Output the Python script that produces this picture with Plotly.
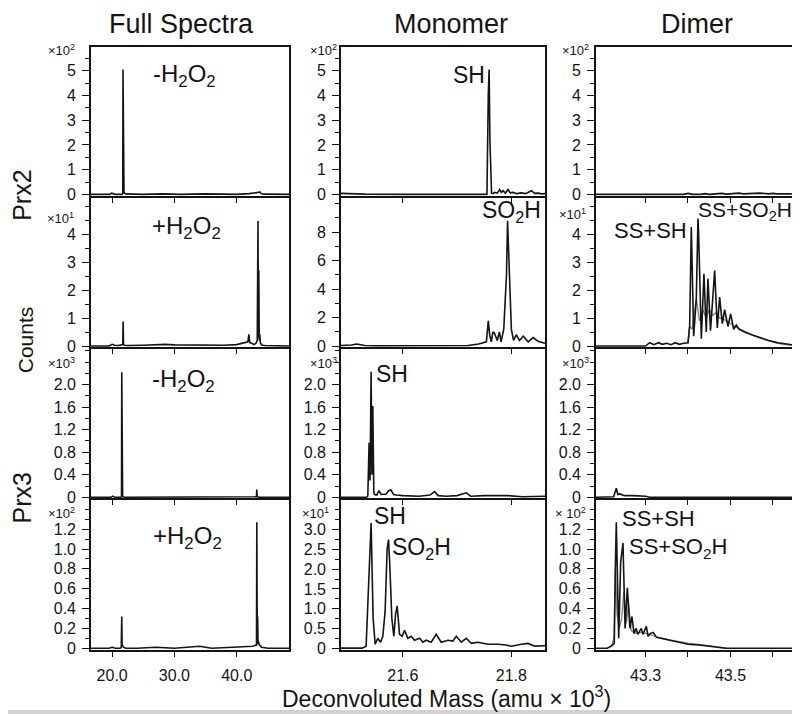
import plotly.graph_objects as go

# ---------------- data (mass in amu x 10^3, intensity in each panel's own scale) ----------------
# Prx2 -H2O2, full spectrum (x10^2)
p2_red_full_x = [16.6, 19.6, 19.9, 20.2, 20.5, 21.6, 21.7, 21.74, 21.78, 21.82, 21.86, 21.9, 22.2, 25.0, 28.0,
                 31.0, 35.0, 40.0, 42.0, 42.6, 43.0, 43.3, 43.5, 43.7, 43.9, 44.3, 48.4]
p2_red_full_y = [0.0, 0.0, 0.05, 0.02, 0.0, 0.0, 0.04, 5.05, 0.3, 2.2, 0.15, 0.06, 0.02, 0.0, 0.02,
                 0.0, 0.02, 0.0, 0.03, 0.04, 0.06, 0.05, 0.08, 0.1, 0.04, 0.01, 0.0]
# Prx2 +H2O2, full spectrum (x10^1)
p2_ox_full_x = [16.6, 19.5, 20.0, 20.4, 21.0, 21.6, 21.7, 21.76, 21.82, 22.0, 22.5, 25.0, 27.0, 28.5, 30.0,
                33.0, 36.0, 38.0, 40.0, 41.0, 41.5, 41.8, 41.95, 42.1, 42.4, 42.8, 43.1, 43.3, 43.42, 43.48,
                43.55, 43.62, 43.7, 43.8, 44.0, 44.5, 45.5, 48.4]
p2_ox_full_y = [0.0, 0.0, 0.06, 0.03, 0.02, 0.03, 0.05, 0.88, 0.05, 0.03, 0.02, 0.03, 0.05, 0.06, 0.04,
                0.03, 0.02, 0.03, 0.05, 0.1, 0.12, 0.15, 0.42, 0.12, 0.1, 0.05, 0.1, 0.2, 4.47, 0.3,
                2.7, 0.2, 0.42, 0.12, 0.04, 0.02, 0.01, 0.0]
# Prx3 -H2O2, full spectrum (x10^3)
p3_red_full_x = [16.6, 19.8, 20.1, 20.4, 21.4, 21.5, 21.54, 21.58, 21.62, 21.68, 22.0, 25.0, 30.0, 35.0,
                 40.0, 42.5, 43.1, 43.17, 43.23, 43.29, 43.5, 48.4]
p3_red_full_y = [0.0, 0.0, 0.02, 0.0, 0.0, 0.01, 2.22, 0.02, 0.14, 0.01, 0.0, 0.0, 0.0, 0.0,
                 0.0, 0.0, 0.01, 0.02, 0.14, 0.01, 0.0, 0.0]
# Prx3 +H2O2, full spectrum (x10^2)
p3_ox_full_x = [16.6, 19.5, 20.0, 20.5, 21.3, 21.46, 21.54, 21.6, 21.66, 21.8, 22.2, 24.0, 27.0, 30.0,
                33.0, 34.0, 36.0, 39.0, 41.0, 42.0, 42.6, 43.0, 43.18, 43.23, 43.3, 43.36, 43.42, 43.5,
                43.6, 44.0, 45.0, 48.4]
p3_ox_full_y = [0.0, 0.0, 0.01, 0.0, 0.0, 0.01, 0.32, 0.02, 0.03, 0.01, 0.0, 0.0, 0.01, 0.0,
                0.01, 0.02, 0.0, 0.01, 0.01, 0.02, 0.02, 0.03, 0.03, 1.27, 0.04, 0.32, 0.08, 0.05,
                0.04, 0.01, 0.0, 0.0]

# Prx2 -H2O2, monomer (x10^2)
p2_red_mono_x = [21.486, 21.50, 21.515, 21.53, 21.60, 21.70, 21.755, 21.7575, 21.759, 21.7605, 21.762,
                 21.7635, 21.766, 21.7692, 21.774, 21.7785, 21.7815, 21.7846, 21.789, 21.7938, 21.798,
                 21.803, 21.81, 21.8184, 21.826, 21.8369, 21.843, 21.849, 21.856, 21.862]
p2_red_mono_y = [0.04, 0.04, 0.04, 0.01, 0.0, 0.0, 0.0, 4.05, 5.05, 2.2, 0.3,
                 0.05, 0.03, 0.08, 0.05, 0.2, 0.08, 0.15, 0.05, 0.2, 0.06,
                 0.08, 0.03, 0.06, 0.03, 0.15, 0.04, 0.05, 0.02, 0.03]
# Prx2 +H2O2, monomer (plain counts)
p2_ox_mono_x = [21.486, 21.505, 21.515, 21.522, 21.53, 21.55, 21.65, 21.72, 21.74, 21.754, 21.7575,
                21.76, 21.763, 21.766, 21.769, 21.774, 21.778, 21.781, 21.786, 21.789, 21.791, 21.793,
                21.796, 21.8, 21.804, 21.809, 21.815, 21.822, 21.831, 21.84, 21.849, 21.855, 21.862]
p2_ox_mono_y = [0.05, 0.08, 0.15, 0.08, 0.05, 0.03, 0.03, 0.05, 0.15, 0.3, 1.77,
                0.8, 0.3, 1.0, 0.9, 0.4, 1.0, 0.3, 1.2, 3.5, 5.0, 8.8,
                5.7, 1.2, 0.4, 0.8, 0.4, 0.7, 0.3, 0.6, 0.35, 0.3, 0.2]
# Prx3 -H2O2, monomer (x10^3)
p3_red_mono_x = [21.486, 21.5, 21.52, 21.533, 21.5354, 21.5378, 21.5395, 21.5415, 21.543, 21.5446, 21.5465,
                 21.5478, 21.552, 21.556, 21.56, 21.564, 21.569, 21.574, 21.578, 21.583, 21.5876, 21.6,
                 21.63, 21.65, 21.6585, 21.665, 21.68, 21.70, 21.717, 21.725, 21.75, 21.794, 21.82, 21.862]
p3_red_mono_y = [0.0, 0.0, 0.0, 0.0, 0.02, 0.97, 0.3, 2.23, 0.4, 1.62, 0.1,
                 0.05, 0.04, 0.12, 0.05, 0.06, 0.06, 0.12, 0.13, 0.05, 0.04, 0.03,
                 0.02, 0.04, 0.1, 0.03, 0.02, 0.03, 0.08, 0.02, 0.03, 0.03, 0.01, 0.02]
# Prx3 +H2O2, monomer (x10^1)
p3_ox_mono_x = [21.486, 21.51, 21.525, 21.5323, 21.5385, 21.5415, 21.5452, 21.549, 21.5538, 21.5588,
                21.5631, 21.5673, 21.571, 21.5736, 21.576, 21.5797, 21.5834, 21.5865, 21.5895, 21.5939,
                21.5987, 21.6031, 21.6092, 21.6153, 21.6215, 21.6308, 21.6369, 21.643, 21.6522, 21.6615,
                21.6707, 21.6831, 21.6923, 21.6985, 21.7077, 21.7169, 21.7261, 21.7385, 21.7569, 21.7754,
                21.79, 21.8, 21.8184, 21.8308, 21.8431, 21.862]
p3_ox_mono_y = [0.0, 0.0, 0.0, 0.05, 2.51, 3.17, 0.76, 0.1, 0.25, 0.15,
                0.3, 0.93, 2.5, 2.75, 2.08, 0.75, 0.3, 0.85, 1.07, 0.35,
                0.3, 0.45, 0.25, 0.3, 0.2, 0.25, 0.15, 0.2, 0.15, 0.35,
                0.15, 0.2, 0.18, 0.3, 0.15, 0.25, 0.12, 0.15, 0.1, 0.1,
                0.08, 0.05, 0.1, 0.12, 0.05, 0.06]

# Prx2 -H2O2, dimer (x10^2)
p2_red_dim_x = [43.1835, 43.25, 43.30, 43.39, 43.40, 43.41, 43.43, 43.44, 43.45, 43.47, 43.48, 43.49,
                43.51, 43.52, 43.53, 43.55, 43.56, 43.57, 43.59, 43.60, 43.61, 43.63, 43.64, 43.666]
p2_red_dim_y = [0.0, 0.0, 0.0, 0.0, 0.04, 0.0, 0.0, 0.03, 0.0, 0.02, 0.04, 0.01,
                0.03, 0.05, 0.02, 0.04, 0.03, 0.05, 0.02, 0.04, 0.02, 0.03, 0.02, 0.01]
# Prx2 +H2O2, dimer (x10^1): sharp peaks and smoother grey profile
p2_ox_dim_x = [43.1835, 43.30, 43.31, 43.32, 43.33, 43.34, 43.35, 43.36, 43.37, 43.38, 43.39, 43.40,
               43.404, 43.4078, 43.4134, 43.4196, 43.4235, 43.425, 43.4314, 43.4376, 43.443, 43.447,
               43.453, 43.4628, 43.469, 43.4745, 43.4808, 43.4863, 43.494, 43.5004, 43.5075, 43.5137,
               43.52, 43.533, 43.55, 43.5725, 43.59, 43.6118, 43.63, 43.651, 43.66]
p2_ox_dim_y = [0.0, 0.0, 0.12, 0.05, 0.12, 0.06, 0.1, 0.05, 0.12, 0.06, 0.1, 0.12,
               0.73, 4.26, 0.35, 1.7, 4.56, 4.05, 0.26, 2.58, 0.5, 2.41,
               0.55, 2.7, 0.65, 1.75, 0.8, 1.3, 0.7, 1.15, 0.6, 0.75,
               0.6, 0.5, 0.4, 0.28, 0.2, 0.12, 0.07, 0.03, 0.02]
p2_ox_dim_env_x = [43.40, 43.404, 43.41, 43.4196, 43.427, 43.435, 43.443, 43.45, 43.458, 43.466, 43.475,
                   43.485, 43.495, 43.51, 43.53, 43.55, 43.57, 43.59, 43.61, 43.63, 43.65]
p2_ox_dim_env_y = [0.1, 0.7, 0.6, 1.7, 0.9, 1.3, 1.0, 1.3, 1.1, 1.2, 1.0,
                   0.95, 0.85, 0.7, 0.55, 0.4, 0.28, 0.18, 0.1, 0.05, 0.02]
# Prx3 -H2O2, dimer (x10^3)
p3_red_dim_x = [43.1835, 43.215, 43.225, 43.2313, 43.235, 43.24, 43.25, 43.27, 43.29, 43.30, 43.31, 43.666]
p3_red_dim_y = [0.0, 0.0, 0.01, 0.16, 0.05, 0.06, 0.03, 0.03, 0.03, 0.02, 0.0, 0.0]
# Prx3 +H2O2, dimer (x10^2)
p3_ox_dim_x = [43.1835, 43.21, 43.2187, 43.2265, 43.229, 43.2313, 43.2369, 43.2416, 43.247, 43.249,
               43.252, 43.2572, 43.26, 43.2635, 43.268, 43.273, 43.278, 43.282, 43.29, 43.294, 43.302,
               43.306, 43.312, 43.318, 43.326, 43.337, 43.353, 43.376, 43.40, 43.431, 43.45, 43.4706,
               43.49, 43.666]
p3_ox_dim_y = [0.0, 0.0, 0.02, 0.05, 0.8, 1.27, 0.1, 0.87, 1.06, 0.57,
               0.2, 0.61, 0.45, 0.2, 0.32, 0.15, 0.2, 0.14, 0.2, 0.14, 0.22,
               0.12, 0.15, 0.16, 0.11, 0.1, 0.08, 0.06, 0.04, 0.03, 0.02, 0.01,
               0.0, 0.0]
p3_ox_dim_env_x = [43.22, 43.226, 43.229, 43.233, 43.238, 43.244, 43.249, 43.255, 43.26, 43.266, 43.275,
                   43.29, 43.31, 43.33, 43.36, 43.40, 43.44, 43.47, 43.49]
p3_ox_dim_env_y = [0.02, 0.1, 0.8, 0.35, 0.2, 0.3, 0.57, 0.25, 0.45, 0.18, 0.15,
                   0.16, 0.14, 0.11, 0.08, 0.05, 0.03, 0.01, 0.0]

# tick labels
full_ticks = [20, 30, 40]
full_ticktext = ["20.0", "30.0", "40.0"]
mono_ticks = [21.6, 21.8]
mono_ticktext = ["21.6", "21.8"]
dim_ticks = [43.3, 43.4, 43.5, 43.6]
dim_ticktext = ["43.3", " ", "43.5", " "]

# ---------------- layout ----------------
W, H = 800, 714
FONT = "Liberation Sans, Arial, sans-serif"
INK = "#141414"

col_px = [(83, 281), (333, 537), (588, 793)]
row_px = [(39, 190), (192, 343), (345, 496), (498, 649)]
x_ranges = [[16.6, 48.4], [21.486, 21.862], [43.1835, 43.666]]
x_ticks = [(full_ticks, full_ticktext), (mono_ticks, mono_ticktext), (dim_ticks, dim_ticktext)]

# per panel: (row, col, x, y, env_x, env_y, y_range, tickvals, ticktext, minor dtick)
panels = [
    (0, 0, p2_red_full_x, p2_red_full_y, None, None, [-0.06, 5.98], [0, 1, 2, 3, 4, 5], None, 0.5),
    (0, 1, p2_red_mono_x, p2_red_mono_y, None, None, [-0.06, 5.98], [0, 1, 2, 3, 4, 5], None, 0.5),
    (0, 2, p2_red_dim_x, p2_red_dim_y, None, None, [-0.06, 5.98], [0, 1, 2, 3, 4, 5], None, 0.5),
    (1, 0, p2_ox_full_x, p2_ox_full_y, None, None, [-0.04, 5.3], [0, 1, 2, 3, 4], None, 0.5),
    (1, 1, p2_ox_mono_x, p2_ox_mono_y, None, None, [-0.07, 10.4], [0, 2, 4, 6, 8], None, 1),
    (1, 2, p2_ox_dim_x, p2_ox_dim_y, p2_ox_dim_env_x, p2_ox_dim_env_y, [-0.04, 5.3], [0, 1, 2, 3, 4], None, 0.5),
    (2, 0, p3_red_full_x, p3_red_full_y, None, None, [-0.02, 2.63], [0, 0.4, 0.8, 1.2, 1.6, 2.0],
     ["0", "0.4", "0.8", "1.2", "1.6", "2.0"], 0.2),
    (2, 1, p3_red_mono_x, p3_red_mono_y, None, None, [-0.02, 2.63], [0, 0.4, 0.8, 1.2, 1.6, 2.0],
     ["0", "0.4", "0.8", "1.2", "1.6", "2.0"], 0.2),
    (2, 2, p3_red_dim_x, p3_red_dim_y, None, None, [-0.02, 2.63], [0, 0.4, 0.8, 1.2, 1.6, 2.0],
     ["0", "0.4", "0.8", "1.2", "1.6", "2.0"], 0.2),
    (3, 0, p3_ox_full_x, p3_ox_full_y, None, None, [-0.015, 1.49], [0, 0.2, 0.4, 0.6, 0.8, 1.0, 1.2],
     ["0", "0.2", "0.4", "0.6", "0.8", "1.0", "1.2"], 0.1),
    (3, 1, p3_ox_mono_x, p3_ox_mono_y, None, None, [-0.04, 3.74], [0, 0.5, 1.0, 1.5, 2.0, 2.5, 3.0],
     ["0", "0.5", "1.0", "1.5", "2.0", "2.5", "3.0"], 0.25),
    (3, 2, p3_ox_dim_x, p3_ox_dim_y, p3_ox_dim_env_x, p3_ox_dim_env_y, [-0.015, 1.49],
     [0, 0.2, 0.4, 0.6, 0.8, 1.0, 1.2], ["0", "0.2", "0.4", "0.6", "0.8", "1.0", "1.2"], 0.1),
]

fig = go.Figure()
layout = {}

for row, col, xs, ys, ex, ey, yr, tv, tt, mdt in panels:
    n = row * 3 + col + 1
    sfx = "" if n == 1 else str(n)
    if ex is not None:
        fig.add_trace(go.Scatter(x=ex, y=ey, mode="lines", line=dict(color="#858585", width=1.4),
                                 xaxis="x" + sfx, yaxis="y" + sfx, showlegend=False, hoverinfo="skip"))
    fig.add_trace(go.Scatter(x=xs, y=ys, mode="lines", line=dict(color=INK, width=1.6),
                             xaxis="x" + sfx, yaxis="y" + sfx, showlegend=False))

    x0, x1 = col_px[col]
    t, b = row_px[row]
    xv, xt = x_ticks[col]
    layout["xaxis" + sfx] = dict(
        domain=[x0 / W, x1 / W], range=x_ranges[col], anchor="y" + sfx,
        showline=True, linecolor=INK, linewidth=1.6, mirror=True,
        showgrid=False, zeroline=False,
        ticks="outside", ticklen=5, tickwidth=1.2, tickcolor=INK,
        tickmode="array", tickvals=xv, ticktext=xt,
        showticklabels=(row == 3), ticklabelstandoff=5,
        tickfont=dict(family=FONT, size=16, color=INK),
    )
    layout["yaxis" + sfx] = dict(
        domain=[1 - b / H, 1 - t / H], range=yr, anchor="x" + sfx,
        showline=True, linecolor=INK, linewidth=1.6, mirror=True,
        showgrid=False, zeroline=False,
        ticks="outside", ticklen=7, tickwidth=1.2, tickcolor=INK,
        tickmode="array", tickvals=tv, ticktext=tt if tt else [str(v) for v in tv],
        minor=dict(ticks="outside", ticklen=4, tickwidth=1, tickcolor=INK,
                   tickmode="linear", tick0=0, dtick=mdt),
        ticklabelstandoff=3,
        tickfont=dict(family=FONT, size=16, color=INK),
    )

annotations = []


def note(text, px, py, size=22, xanchor="center", yanchor="middle", angle=0):
    annotations.append(dict(text=text, x=px / W, y=1 - py / H, xref="paper", yref="paper",
                            xanchor=xanchor, yanchor=yanchor, showarrow=False, textangle=angle,
                            font=dict(family=FONT, size=size, color=INK)))


# column titles
note("Full Spectra", 173, 16, size=27)
note("Monomer", 443, 16, size=27)
note("Dimer", 689, 16, size=27)

# row labels
note("Prx2", 14, 190, size=25, angle=-90)
note("Counts", 17, 336, size=21, angle=-90)
note("Prx3", 14, 496, size=25, angle=-90)

# x axis title
note("Deconvoluted Mass (amu × 10<sup>3</sup>)", 439, 697, size=23)

# scale multipliers
mult = [
    ("×10<sup>2</sup>", 69, 42), ("×10<sup>2</sup>", 331, 42), ("×10<sup>2</sup>", 583, 42),
    ("×10<sup>1</sup>", 68, 212), ("×10<sup>1</sup>", 580, 208),
    ("×10<sup>3</sup>", 69, 359), ("×10<sup>3</sup>", 331, 359), ("×10<sup>3</sup>", 583, 359),
    ("×10<sup>2</sup>", 69, 511), ("×10<sup>1</sup>", 323, 511), ("× 10<sup>2</sup>", 580, 511),
]
for txt, px, py in mult:
    note(txt, px, py, size=13, xanchor="right")

# in-panel labels
note("-H<sub>2</sub>O<sub>2</sub>", 176, 68, size=24)
note("+H<sub>2</sub>O<sub>2</sub>", 178, 222, size=24)
note("-H<sub>2</sub>O<sub>2</sub>", 175, 377, size=24)
note("+H<sub>2</sub>O<sub>2</sub>", 179, 535, size=24)
note("SH", 461, 68, size=23)
note("SO<sub>2</sub>H", 503, 206, size=23)
note("SH", 384, 370, size=23)
note("SH", 382, 514, size=23)
note("SO<sub>2</sub>H", 414, 547, size=23)
note("SS+SH", 642, 225, size=22)
note("SS+SO<sub>2</sub>H", 737, 205, size=21)
note("SS+SH", 650, 516, size=22)
note("SS+SO<sub>2</sub>H", 670, 546, size=22)

fig.update_layout(
    width=W, height=H,
    margin=dict(l=0, r=0, t=0, b=0),
    paper_bgcolor="white", plot_bgcolor="white",
    annotations=annotations,
    shapes=[dict(type="rect", xref="paper", yref="paper", x0=0, x1=1, y0=0, y1=4 / H,
                 fillcolor="#d2d2d2", line=dict(width=0), layer="below")],
    **layout,
)

fig.write_html("out.html")
